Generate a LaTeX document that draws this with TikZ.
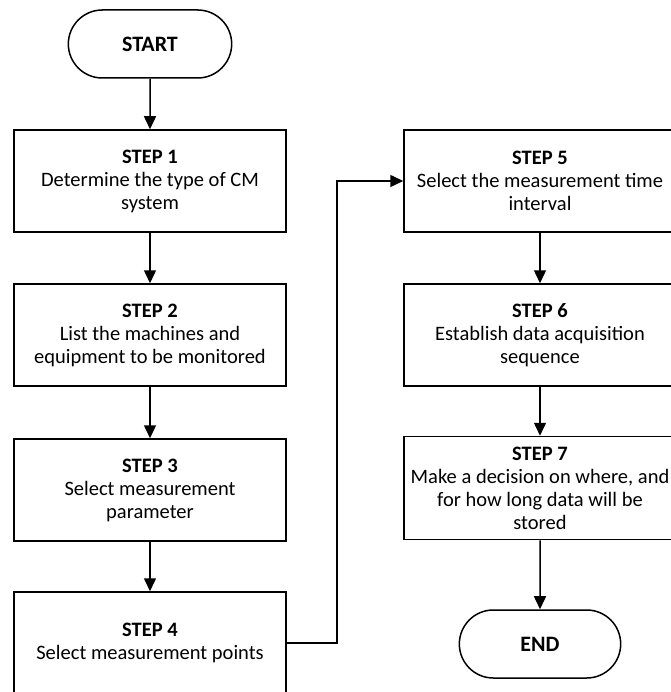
\documentclass[tikz,border=0pt]{standalone}
\usepackage{fontspec}
\setmainfont{Carlito}
\usetikzlibrary{arrows.meta,shapes.misc,positioning}
\begin{document}
\begin{tikzpicture}[x=1pt,y=1pt,
  box/.style={draw=black, line width=1.5pt, minimum width=272pt, minimum height=102pt, align=center, inner sep=1pt, font=\fontsize{20.5}{23}\selectfont},
  term/.style={draw=black, line width=1.5pt, rounded rectangle, minimum width=170pt, minimum height=68pt, font=\fontsize{22}{24}\selectfont\bfseries},
  arr/.style={line width=1.5pt, -{Triangle[length=13pt,width=12pt]}}]
\useasboundingbox (0,0) rectangle (670,-692);
\node[term] (start) at (150,-44) {START};
\node[box] (s1) at (150,-181) {\textbf{STEP 1}\\Determine the type of CM\\system};
\node[box] (s2) at (150,-335) {\textbf{STEP 2}\\List the machines and\\equipment to be monitored};
\node[box] (s3) at (150,-490) {\textbf{STEP 3}\\Select measurement\\parameter};
\node[box] (s4) at (150,-643) {\textbf{STEP 4}\\Select measurement points};
\node[box] (s5) at (540,-181) {\textbf{STEP 5}\\Select the measurement time\\interval};
\node[box] (s6) at (540,-335) {\textbf{STEP 6}\\Establish data acquisition\\sequence};
\node[box, minimum height=103pt] (s7) at (540,-488) {\textbf{STEP 7}\\Make a decision on where, and\\for how long data will be\\stored};
\node[term, minimum width=168pt] (end) at (540,-644) {END};
\draw[arr] (start) -- (s1);
\draw[arr] (s1) -- (s2);
\draw[arr] (s2) -- (s3);
\draw[arr] (s3) -- (s4);
\draw[arr] (s4.east) -- ++(50,0) |- (s5.west);
\draw[arr] (s5) -- (s6);
\draw[arr] (s6) -- (s7);
\draw[arr] (s7) -- (end);
\end{tikzpicture}
\end{document}
